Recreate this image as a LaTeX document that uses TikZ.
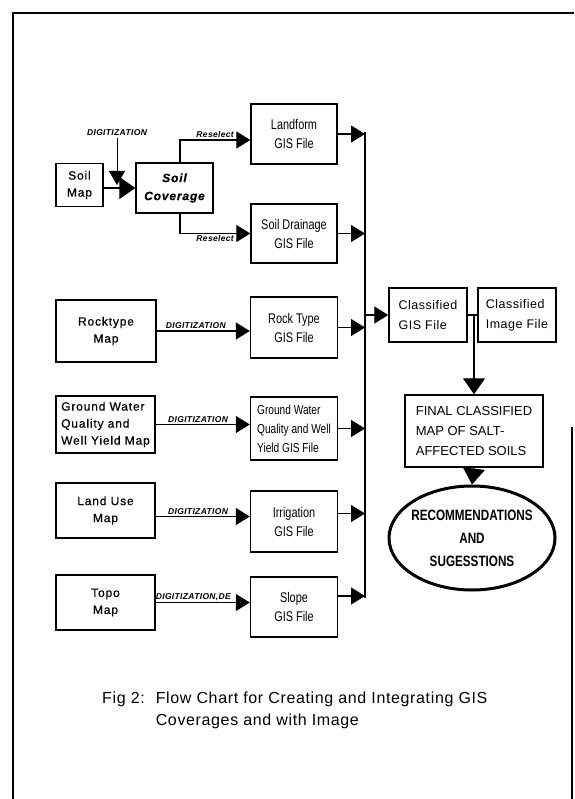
\documentclass[tikz,border=0pt]{standalone}
\usepackage{fontspec}
\setmainfont{Liberation Sans}
\newfontfamily\mapfont[LetterSpace=7, FakeBold=0.6]{Liberation Sans}
\newfontfamily\narrowfont[FakeStretch=0.78]{Liberation Sans}
\newfontfamily\tagfont[LetterSpace=4]{Liberation Sans}
\newfontfamily\capfont[LetterSpace=4]{Liberation Sans}
\usetikzlibrary{arrows.meta}
\usetikzlibrary{shapes.geometric}
\usetikzlibrary{positioning}

\begin{document}
\begin{tikzpicture}[x=1pt, y=-1pt, on grid,
	box/.style = {draw, line width=1.4pt, inner sep=0pt},
	mapbox/.style = {box, minimum width=99pt, minimum height=57pt, align=center, font=\mapfont\fontsize{12}{17}\selectfont},
	gisbox/.style = {box, minimum width=87pt, minimum height=61pt, align=center, font=\narrowfont\fontsize{14}{19}\selectfont},
	tag/.style = {inner sep=1.5pt, font=\tagfont\bfseries\itshape\fontsize{8.5}{10}\selectfont},
	link/.style = {line width=1.2pt},
	arr/.style = {link, -{Triangle[length=14pt, width=17pt]}},
	bigarr/.style = {link, -{Triangle[length=16pt, width=22pt]}}]

	\useasboundingbox (0,0) rectangle (574,799);
	% page frame
	\draw[line width=1.2pt] (13,799) -- (13,13) -- (574,13);
	\draw[line width=1.2pt] (572,427) -- (572,799);

	% source maps
	\node[mapbox, minimum width=47pt, minimum height=43pt] (soilmap) at (79.5,185) {Soil\\Map};
	\node[box, minimum width=77pt, minimum height=50pt, align=center, font=\mapfont\bfseries\itshape\fontsize{12}{18}\selectfont] (soilcov) at (174.5,188) {Soil\\Coverage};
	\node[mapbox, minimum width=100pt, minimum height=62pt] (rockmap) at (106,331) {Rocktype\\Map};
	\node[mapbox, align=left] (gwmap) at (105.5,424.5) {Ground Water\\Quality and\\Well Yield Map};
	\node[mapbox, minimum height=55pt] (lumap) at (105.5,510.5) {Land Use\\Map};
	\node[mapbox, minimum height=55pt] (topomap) at (105.5,602.5) {Topo\\Map};

	% gis coverages
	\node[gisbox, minimum width=86pt, minimum height=60pt] (landform) at (294,134) {Landform\\GIS File};
	\node[gisbox, minimum width=86pt, minimum height=59pt] (drainage) [below=99.5pt of landform] {Soil Drainage\\GIS File};
	\node[gisbox] (rockgis) [below=94pt of drainage] {Rock Type\\GIS File};
	\node[gisbox, minimum height=63pt, align=left, font=\narrowfont\fontsize{13}{19}\selectfont] (gwgis) [below=101pt of rockgis] {Ground Water\\Quality and Well\\Yield GIS File};
	\node[gisbox] (irrgis) [below=93pt of gwgis] {Irrigation\\GIS File};
	\node[gisbox, minimum height=60pt] (slopegis) [below=85.5pt of irrgis] {Slope\\GIS File};

	% integration
	\node[box, minimum width=78pt, minimum height=54pt, align=left, font=\tagfont\fontsize{12.5}{20}\selectfont] (clgis) at (428,315) {Classified\\GIS File};
	\node[box, minimum width=78pt, minimum height=54pt, align=left, font=\tagfont\fontsize{12.5}{20}\selectfont] (climg) [right=89pt of clgis] {Classified\\Image File};
	\node[box, minimum width=138pt, minimum height=72pt, align=left, font=\fontsize{13}{20}\selectfont] (final) at (474,431) {FINAL CLASSIFIED\\MAP OF SALT-\\AFFECTED SOILS};
	\node[ellipse, draw, line width=3pt, minimum width=166pt, minimum height=104pt, inner xsep=-8pt, inner ysep=0pt, align=center, font=\narrowfont\bfseries\fontsize{15}{23}\selectfont] (recom) at (472,538) {RECOMMENDATIONS\\AND\\SUGESSTIONS};

	% soil map branch
	\node[tag] (digtop) at (117,133) {DIGITIZATION};
	\draw[line width=0.5pt, -{Triangle[length=14pt, width=16pt]}] (digtop.south) -- (digtop.south |- soilmap.east);
	\draw[bigarr] (soilmap.east |- soilcov.west) -- (soilcov.west);
	\draw[arr] ([xshift=5.5pt]soilcov.north) |- node[tag, above, pos=0.75] {Reselect} ([yshift=-6pt]landform.west);
	\draw[arr] ([xshift=5.5pt]soilcov.south) |- node[tag, below, pos=0.75] {Reselect} (drainage.west);

	% digitizing
	\draw[arr] (rockmap.east) -- node[tag, above, pos=0.42] {DIGITIZATION} (rockmap.east -| rockgis.west);
	\draw[arr] (gwmap.east) -- node[tag, above, pos=0.45] {DIGITIZATION} (gwmap.east -| gwgis.west);
	\draw[arr] ([yshift=-6pt]lumap.east) -- node[tag, above, pos=0.45] {DIGITIZATION} ([yshift=-6pt]lumap.east -| irrgis.west);
	\draw[arr] (topomap.east) -- node[tag, above, pos=0.4] {DIGITIZATION,DE} (topomap.east -| slopegis.west);

	% collecting line
	\coordinate (bustop) at (365,132);
	\coordinate (busbot) at (365,598);
	\draw[link] (bustop) -- (busbot);
	\draw[arr] (landform.east) -- (landform.east -| bustop);
	\draw[arr] (drainage.east) -- (drainage.east -| bustop);
	\draw[arr] (rockgis.east) -- (rockgis.east -| bustop);
	\draw[arr] (gwgis.east) -- (gwgis.east -| bustop);
	\draw[arr] ([yshift=8pt]irrgis.east) -- ([yshift=8pt]irrgis.east -| bustop);
	\draw[arr] ([yshift=11pt]slopegis.east) -- ([yshift=11pt]slopegis.east -| bustop);
	\draw[arr] (clgis.west -| bustop) -- (clgis.west);

	% to final map
	\draw[link] (clgis.east) -- (climg.west);
	\draw[bigarr] (final.north |- clgis.east) -- (final.north);
	\draw[bigarr] (final.south) -- (recom.north);

	\node[anchor=base west, inner sep=0pt, font=\capfont\fontsize{16}{22}\selectfont] (caption) at (102,703)
		{\begin{tabular}[t]{@{}l@{\hspace{11pt}}l@{}}Fig 2: & Flow Chart for Creating and Integrating GIS\\ & Coverages and with Image\end{tabular}};
\end{tikzpicture}
\end{document}
